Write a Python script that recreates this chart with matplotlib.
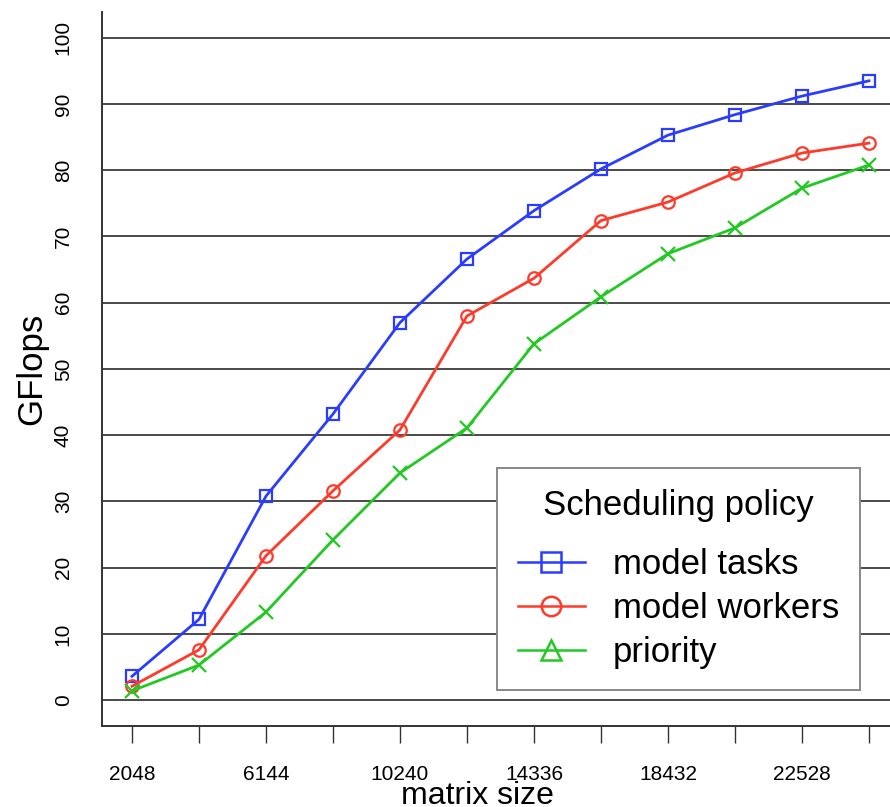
import numpy as np
import matplotlib
matplotlib.use('Agg')
import matplotlib.pyplot as plt
from matplotlib.lines import Line2D

plt.rcParams['font.family'] = ['Liberation Sans', 'DejaVu Sans']

# data
msize = [2048, 4096, 6144, 8192, 10240, 12288, 14336, 16384, 18432, 20480, 22528, 24576]
model_tasks = [3.6, 12.2, 30.8, 43.2, 57.0, 66.6, 73.9, 80.2, 85.3, 88.4, 91.2, 93.5]
model_workers = [2.1, 7.6, 21.8, 31.6, 40.8, 58.0, 63.7, 72.4, 75.2, 79.6, 82.6, 84.1]
priority = [1.4, 5.3, 13.3, 24.2, 34.3, 41.1, 53.8, 60.9, 67.4, 71.3, 77.3, 80.8]
xlabels = [2048, 6144, 10240, 14336, 18432, 22528]
yticks = list(range(0, 101, 10))

blue = '#2a3cff'
red = '#ff3a2a'
green = '#22c922'

fig = plt.figure(figsize=(8.9, 8.07), dpi=100)
ax = fig.add_axes([0.1146, 0.1004, 0.8854, 0.8848])

for y in yticks:
    ax.axhline(y, color='#4a4a4a', lw=1.4, zorder=1)

ax.plot(msize, model_tasks, '-s', color=blue, lw=2, ms=9, mfc='none', mew=1.6, zorder=3)
ax.plot(msize, model_workers, '-o', color=red, lw=2, ms=9, mfc='none', mew=1.6, zorder=3)
ax.plot(msize, priority, '-x', color=green, lw=2, ms=10, mew=1.6, zorder=3)

ax.set_xlim(1131, 25218)
ax.set_ylim(-3.9, 103.9)

ax.set_xticks(msize)
ax.set_xticklabels([str(m) if m in xlabels else '' for m in msize], fontsize=15)
ax.tick_params(axis='x', length=12, width=1, color='#333333', pad=16)
ax.set_yticks(yticks)
ax.set_yticklabels([str(y) for y in yticks], rotation=90, va='center', fontsize=15)
ax.tick_params(axis='y', length=0, pad=21)

for s in ['top', 'right']:
    ax.spines[s].set_visible(False)
ax.spines['left'].set_color('#333333')
ax.spines['bottom'].set_color('#333333')
ax.spines['left'].set_linewidth(1.4)
ax.spines['bottom'].set_linewidth(1.4)

ax.set_xlabel('matrix size', fontsize=23, labelpad=-2)
ax.xaxis.label.set_x(0.477)
ax.set_ylabel('GFlops', fontsize=25, labelpad=4)

handles = [
    Line2D([], [], color=blue, lw=1.8, marker='s', ms=14, mfc='none', mew=1.8),
    Line2D([], [], color=red, lw=1.8, marker='o', ms=14, mfc='none', mew=1.8),
    Line2D([], [], color=green, lw=1.8, marker='^', ms=15, mfc='none', mew=1.8),
]
leg = ax.legend(handles, ['model tasks', 'model workers', 'priority'],
                title='Scheduling policy', loc='lower left',
                bbox_to_anchor=(0.501, 0.050), fontsize=25, title_fontsize=25,
                fancybox=False, framealpha=1, edgecolor='#888888',
                handlelength=1.95, handletextpad=0.8, borderpad=0.6,
                labelspacing=0.32, borderaxespad=0)
leg._legend_box.sep = 0.75 * 25  # more room under the title
leg.get_frame().set_linewidth(1.4)
leg.set_zorder(5)

fig.savefig('out.png', dpi=100)
